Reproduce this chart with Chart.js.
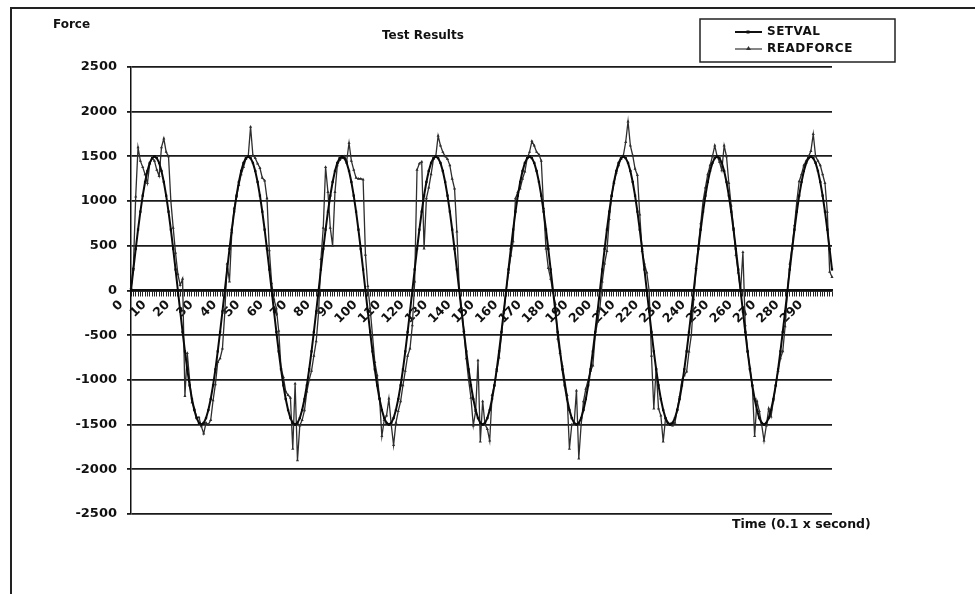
<!DOCTYPE html>
<html>
<head>
<meta charset="utf-8">
<title>Test Results</title>
<script src="https://cdn.jsdelivr.net/npm/chart.js@4"></script>
<style>
  html, body { margin: 0; padding: 0; background: #fff; }
  #wrap { width: 975px; height: 594px; position: relative; }
</style>
</head>
<body>
<div id="wrap"><canvas id="myChart" width="975" height="594"></canvas></div>
<script>
// set point sent to the actuator (one value every 0.1 s)
const setval = [
  0, 235, 464, 681, 882, 1061, 1214, 1337, 1427, 1481,
  1500, 1481, 1427, 1337, 1214, 1061, 882, 681, 464, 235,
  0, -235, -464, -681, -882, -1061, -1214, -1337, -1427, -1481,
  -1500, -1481, -1427, -1337, -1214, -1061, -882, -681, -464, -235,
  0, 235, 464, 681, 882, 1061, 1214, 1337, 1427, 1481,
  1500, 1481, 1427, 1337, 1214, 1061, 882, 681, 464, 235,
  0, -235, -464, -681, -882, -1061, -1214, -1337, -1427, -1481,
  -1500, -1481, -1427, -1337, -1214, -1061, -882, -681, -464, -235,
  0, 235, 464, 681, 882, 1061, 1214, 1337, 1427, 1481,
  1500, 1481, 1427, 1337, 1214, 1061, 882, 681, 464, 235,
  0, -235, -464, -681, -882, -1061, -1214, -1337, -1427, -1481,
  -1500, -1481, -1427, -1337, -1214, -1061, -882, -681, -464, -235,
  0, 235, 464, 681, 882, 1061, 1214, 1337, 1427, 1481,
  1500, 1481, 1427, 1337, 1214, 1061, 882, 681, 464, 235,
  0, -235, -464, -681, -882, -1061, -1214, -1337, -1427, -1481,
  -1500, -1481, -1427, -1337, -1214, -1061, -882, -681, -464, -235,
  0, 235, 464, 681, 882, 1061, 1214, 1337, 1427, 1481,
  1500, 1481, 1427, 1337, 1214, 1061, 882, 681, 464, 235,
  0, -235, -464, -681, -882, -1061, -1214, -1337, -1427, -1481,
  -1500, -1481, -1427, -1337, -1214, -1061, -882, -681, -464, -235,
  0, 235, 464, 681, 882, 1061, 1214, 1337, 1427, 1481,
  1500, 1481, 1427, 1337, 1214, 1061, 882, 681, 464, 235,
  0, -235, -464, -681, -882, -1061, -1214, -1337, -1427, -1481,
  -1500, -1481, -1427, -1337, -1214, -1061, -882, -681, -464, -235,
  0, 235, 464, 681, 882, 1061, 1214, 1337, 1427, 1481,
  1500, 1481, 1427, 1337, 1214, 1061, 882, 681, 464, 235,
  0, -235, -464, -681, -882, -1061, -1214, -1337, -1427, -1481,
  -1500, -1481, -1427, -1337, -1214, -1061, -882, -681, -464, -235,
  0, 235, 464, 681, 882, 1061, 1214, 1337, 1427, 1481,
  1500, 1481, 1427, 1337, 1214, 1061, 882, 681, 464, 235
];

// force measured by the load cell
const readforce = [
  30, 250, 1050, 1600, 1450, 1380, 1300, 1200, 1420, 1480,
  1450, 1350, 1280, 1600, 1700, 1550, 1500, 1000, 700, 420,
  180, 60, 130, -1180, -700, -1000, -1250, -1320, -1420, -1420,
  -1520, -1600, -1480, -1500, -1450, -1230, -1050, -800, -760, -650,
  -250, 300, 100, 650, 920, 1050, 1180, 1300, 1380, 1470,
  1500, 1830, 1510, 1480, 1420, 1370, 1260, 1230, 1030, 450,
  80, -100, -200, -450, -870, -970, -1130, -1170, -1200, -1770,
  -1040, -1900, -1510, -1450, -1340, -1130, -1000, -900, -730, -570,
  -250, 350, 700, 1380, 1100, 700, 500, 1100, 1400, 1460,
  1480, 1500, 1450, 1650, 1450, 1350, 1260, 1250, 1250, 1240,
  400, 50, -200, -500, -800, -950, -1200, -1630, -1450, -1400,
  -1210, -1500, -1730, -1480, -1350, -1240, -1060, -900, -730, -650,
  -390, 100, 1350, 1420, 1440, 470, 1030, 1150, 1300, 1470,
  1500, 1730, 1620, 1550, 1500, 1470, 1400, 1250, 1140, 660,
  20, -200, -450, -760, -1000, -1200, -1510, -1350, -780, -1690,
  -1240, -1500, -1550, -1680, -1170, -1060, -900, -750, -500, -250,
  0, 200, 390, 550, 1030, 1100, 1140, 1250, 1330, 1480,
  1550, 1670, 1620, 1550, 1520, 1450, 920, 470, 250, 130,
  -20, -150, -537, -700, -840, -1000, -1170, -1770, -1500, -1490,
  -1120, -1880, -1500, -1240, -1100, -1000, -900, -840, -500, -350,
  -200, 100, 300, 440, 800, 1060, 1200, 1320, 1400, 1470,
  1510, 1660, 1890, 1620, 1510, 1360, 1290, 850, 440, 300,
  200, 0, -730, -1320, -870, -1320, -1400, -1690, -1430, -1500,
  -1490, -1510, -1480, -1330, -1185, -1000, -950, -906, -683, -500,
  -100, 250, 503, 750, 1000, 1150, 1300, 1400, 1500, 1620,
  1500, 1440, 1345, 1620, 1500, 1200, 950, 700, 400, 200,
  0, 430, -390, -680, -870, -1060, -1630, -1240, -1350, -1500,
  -1680, -1510, -1320, -1410, -1230, -1060, -900, -760, -680, -400,
  0, 300, 500, 730, 1000, 1220, 1300, 1400, 1450, 1500,
  1560, 1750, 1500, 1450, 1400, 1300, 1200, 880, 210, 150
];

// sample index on the time axis
const timeSteps = setval.map((v, i) => i);

// categories that carry a printed label
const timeTickLabels = [0, 10, 20, 30, 40, 50, 60, 70, 80, 90, 100, 110, 120, 130, 140,
  150, 160, 170, 180, 190, 200, 210, 220, 230, 240, 250, 260, 270, 280, 290];

const forceMin = -2500;
const forceMax = 2500;
const forceStep = 500;

const FONT = '"DejaVu Sans", Verdana, sans-serif';

// frame, titles and legend box
const decorations = {
  id: 'decorations',
  afterDraw(chart) {
    const c = chart.ctx;
    c.save();
    c.strokeStyle = '#222';
    c.lineWidth = 2;
    c.beginPath();
    c.moveTo(10, 8);
    c.lineTo(975, 8);
    c.moveTo(11, 8);
    c.lineTo(11, 594);
    c.stroke();

    c.fillStyle = '#111';
    c.textBaseline = 'middle';
    c.font = 'bold 12px ' + FONT;
    c.textAlign = 'left';
    c.fillText('Force', 53, 25);
    c.fillText('Test Results', 382, 36);
    c.font = 'bold 12.5px ' + FONT;
    c.fillText('Time (0.1 x second)', 732, 525);

    // legend
    c.lineWidth = 1.5;
    c.strokeStyle = '#222';
    c.strokeRect(700, 19, 195, 43);
    c.font = 'bold 12px ' + FONT;
    c.letterSpacing = '0.5px';
    c.fillText('SETVAL', 767, 32);
    c.fillText('READFORCE', 767, 49);
    c.letterSpacing = '0px';

    c.strokeStyle = '#111';
    c.lineWidth = 2;
    c.beginPath();
    c.moveTo(735, 32);
    c.lineTo(762, 32);
    c.stroke();
    c.fillStyle = '#111';
    c.fillRect(746.5, 30.5, 3, 3);

    c.strokeStyle = '#333';
    c.lineWidth = 1.2;
    c.beginPath();
    c.moveTo(735, 49);
    c.lineTo(762, 49);
    c.stroke();
    c.beginPath();
    c.moveTo(748.5, 46);
    c.lineTo(751, 50);
    c.lineTo(746, 50);
    c.closePath();
    c.fillStyle = '#333';
    c.fill();
    c.restore();
  }
};

const ctx = document.getElementById('myChart');

new Chart(ctx, {
  type: 'line',
  data: {
    labels: timeSteps,
    datasets: [
      {
        label: 'SETVAL',
        data: setval,
        borderColor: '#0a0a0a',
        backgroundColor: '#0a0a0a',
        borderWidth: 2,
        pointStyle: 'rect',
        pointRadius: 1.6,
        pointBorderWidth: 0,
        tension: 0
      },
      {
        label: 'READFORCE',
        data: readforce,
        borderColor: '#2e2e2e',
        backgroundColor: '#2e2e2e',
        borderWidth: 1.3,
        pointStyle: 'triangle',
        pointRadius: 1.8,
        pointBorderWidth: 0,
        tension: 0
      }
    ]
  },
  options: {
    responsive: false,
    animation: false,
    layout: { padding: { left: 0, right: 143, top: 67, bottom: 80 } },
    plugins: {
      legend: { display: false },
      title: { display: false },
      tooltip: { enabled: false }
    },
    scales: {
      x: {
        type: 'category',
        position: { y: 0 },
        offset: false,
        border: { display: true, color: '#111', width: 2.5 },
        grid: {
          display: true,
          drawOnChartArea: false,
          drawTicks: true,
          tickLength: 5,
          color: '#222',
          lineWidth: 1
        },
        ticks: {
          autoSkip: false,
          minRotation: 45,
          maxRotation: 45,
          padding: 2,
          labelOffset: -10,
          color: '#111',
          font: { family: FONT, size: 12.5, weight: 'bold' },
          callback: function (value, index) {
            const t = timeSteps[index];
            return timeTickLabels.includes(t) ? String(t) : '';
          }
        }
      },
      y: {
        min: forceMin,
        max: forceMax,
        afterFit(scale) { scale.width = 131; },
        border: { display: true, color: '#111', width: 1.5 },
        grid: {
          color: '#1a1a1a',
          lineWidth: 1.8,
          tickLength: 4
        },
        ticks: {
          stepSize: forceStep,
          padding: 10,
          color: '#111',
          font: { family: FONT, size: 13, weight: 'bold' },
          callback: function (value) { return String(value); }
        }
      }
    }
  },
  plugins: [decorations]
});
</script>
</body>
</html>
